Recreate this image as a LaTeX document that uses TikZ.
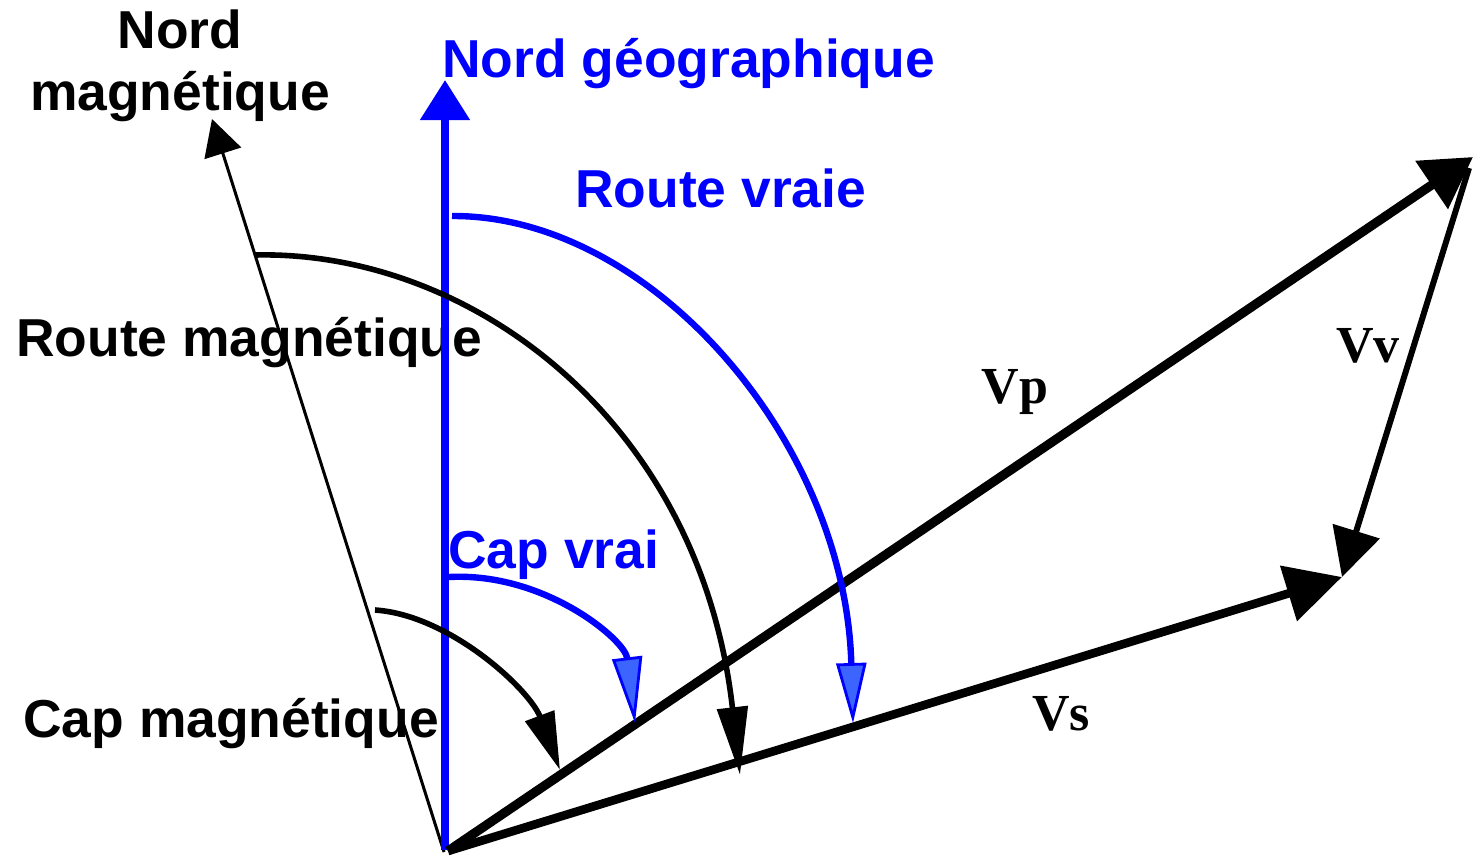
\documentclass[tikz,border=0pt]{standalone}
\usepackage{fontspec}
\newfontfamily\lsans{Liberation Sans}
\newfontfamily\lserif{Liberation Serif}
\usetikzlibrary{arrows.meta}
\definecolor{tipblue}{RGB}{60,100,255}
\begin{document}
\begin{tikzpicture}[x=0.5pt,y=-0.5pt,
  lbl/.style={inner sep=0pt, font=\lsans\bfseries\fontsize{26.7pt}{31pt}\selectfont},
  blbl/.style={lbl, text=blue},
  vlbl/.style={inner sep=0pt, anchor=base, font=\lserif\bfseries\fontsize{26pt}{30pt}\selectfont},
  vecline/.style={line width=4.6pt},
  blackarc/.style={line width=2.8pt},
  bluearc/.style={draw=blue, line width=3.2pt},
]
\useasboundingbox (0,0) rectangle (1474,858);

% labels
\node[lbl, anchor=base] (nm1) at (180,48) {Nord};
\node[lbl, anchor=base] (nm2) at (180,110) {magnétique};
\node[blbl, anchor=base west] (ng) at (442,77) {Nord géographique};
\node[blbl, anchor=base west] (rv) at (575,207) {Route vraie};
\node[lbl, anchor=base west] (rm) at (16,356) {Route magnétique};
\node[blbl, anchor=base west] (cv) at (448,568) {Cap vrai};
\node[lbl, anchor=base west] (cm) at (23,737) {Cap magnétique};
\node[vlbl] (lvp) at (1015,403) {Vp};
\node[vlbl] (lvv) at (1368,362) {Vv};
\node[vlbl] (lvs) at (1061,730) {Vs};

% key points
\coordinate (O) at (445,850);
\coordinate (Ob) at (448,851);
\coordinate (GN) at (445,80);
\coordinate (MN) at (212,119);
\coordinate (MO) at (444,852);
\coordinate (P) at (1473,157);
\coordinate (Pv) at (1469,168);
\coordinate (S) at (1342,577);
\coordinate (rmA) at (255,255);
\coordinate (rmB) at (740,775);
\coordinate (rvA) at (452,216);
\coordinate (rvB) at (853,723);
\coordinate (cmA) at (375,610);
\coordinate (cmB) at (560,770);
\coordinate (cvA) at (449,577);
\coordinate (cvB) at (635,723);

% magnetic north
\draw[line width=1.5pt, -{Triangle[length=18pt,width=19pt]}] (MO) -- (MN);
% geographic north
\draw[blue, line width=4pt, -{Triangle[length=20pt,width=24pt]}] (O) -- (GN);

% vectors
\draw[vecline, -{Triangle[length=25pt,width=28pt]}] (Ob) -- (P);
\draw[vecline, line width=4.3pt, -{Triangle[length=28pt,width=28pt]}] (Ob) -- (S);
\draw[line width=3pt, -{Triangle[length=24pt,width=24pt]}] (Pv) -- (S);

% arcs
\draw[blackarc, -{Triangle[length=34pt,width=15pt]}] (rmA) .. controls (470,250) and (700,420) .. (rmB);
\draw[bluearc, -{Triangle[length=30pt,width=15pt,fill=tipblue,line width=1.4pt]}] (rvA) .. controls (650,215) and (845,440) .. (rvB);
\draw[blackarc, -{Triangle[length=29pt,width=15pt]}] (cmA) .. controls (450,615) and (530,690) .. (cmB);
\draw[bluearc, -{Triangle[length=33pt,width=15pt,fill=tipblue,line width=1.4pt]}] (cvA) .. controls (545,572) and (625,640) .. (cvB);
\end{tikzpicture}
\end{document}
